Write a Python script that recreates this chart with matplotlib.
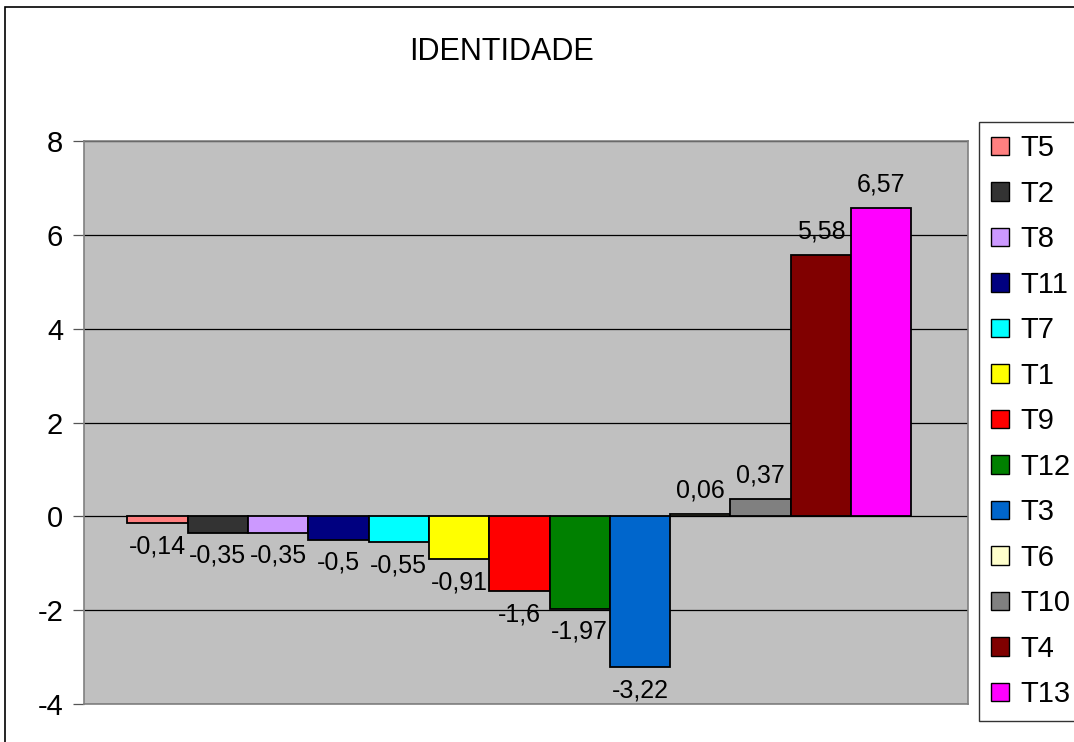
import matplotlib
matplotlib.use("Agg")
import matplotlib.pyplot as plt
from matplotlib.patches import Rectangle, Patch

series = ["T5", "T2", "T8", "T11", "T7", "T1", "T9", "T12", "T3", "T6", "T10", "T4", "T13"]
values = [-0.14, -0.35, -0.35, -0.5, -0.55, -0.91, -1.6, -1.97, -3.22, 0.06, 0.37, 5.58, 6.57]
colors = ["#FF8080", "#333333", "#CC99FF", "#000080", "#00FFFF", "#FFFF00", "#FF0000",
          "#008000", "#0066CC", "#FFFFCC", "#808080", "#800000", "#FF00FF"]
title = "IDENTIDADE"
yticks = [-4, -2, 0, 2, 4, 6, 8]

plt.rcParams['font.family'] = ['Liberation Sans', 'DejaVu Sans']

fig = plt.figure(figsize=(10.74, 7.42), dpi=100)
fig.patch.set_facecolor("white")
# outer chart frame
fig.patches.append(Rectangle((5 / 1074, -0.05), 1.2, 1 - 7 / 742 + 0.05,
                             transform=fig.transFigure, fill=False,
                             edgecolor="black", linewidth=1.2))

ax = fig.add_axes([84 / 1074, 1 - 704 / 742, (968 - 84) / 1074, (704 - 141) / 742])
ax.set_facecolor("#C0C0C0")

x = list(range(len(values)))
bars = ax.bar(x, values, width=1.0, color=colors, edgecolor="black", linewidth=1.3, zorder=3)

for xi, v in zip(x, values):
    lab = ("%g" % v).replace(".", ",")
    if v >= 0:
        ax.annotate(lab, (xi, v), xytext=(0, 8), textcoords="offset points",
                    ha="center", va="bottom", fontsize=18, zorder=4)
    else:
        ax.annotate(lab, (xi, v), xytext=(0, -8), textcoords="offset points",
                    ha="center", va="top", fontsize=18, zorder=4)

ax.set_xlim(-0.5 - 0.72, len(values) - 0.5 + 0.94)
ax.set_ylim(-4, 8)
ax.set_yticks(yticks)
ax.set_yticklabels([str(t) for t in yticks], fontsize=21)
ax.yaxis.grid(True, color="black", linewidth=0.9, zorder=1)
ax.set_axisbelow(True)
ax.tick_params(axis="y", direction="out", length=8, width=0.9, color="#555555", pad=7)
ax.tick_params(axis="x", bottom=False, labelbottom=False)
for s in ax.spines.values():
    s.set_color("#808080")
    s.set_linewidth(1.2)

fig.text(502 / 1074, 1 - 52 / 742, title, ha="center", va="center", fontsize=22)

handles = [Patch(facecolor=c, edgecolor="black", linewidth=1.0, label=s) for s, c in zip(series, colors)]
leg = fig.legend(handles=handles, loc="upper left", bbox_to_anchor=(979 / 1074, 1 - 122 / 742),
                 borderaxespad=0, fontsize=21, labelspacing=0.6, handlelength=0.62,
                 handleheight=0.6, handletextpad=0.38, borderpad=0.42, fancybox=False,
                 frameon=True, edgecolor="#333333", framealpha=1)
leg.get_frame().set_linewidth(1.0)

fig.savefig("out.png", dpi=100)
